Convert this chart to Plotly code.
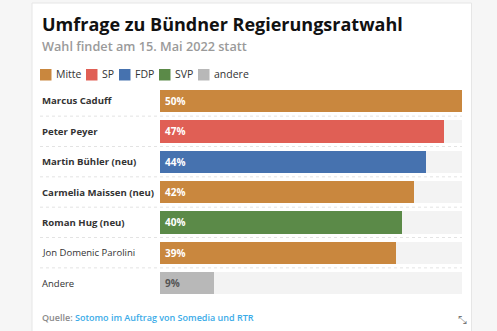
import plotly.graph_objects as go

W, H = 497, 331

names = ["Marcus Caduff", "Peter Peyer", "Martin Bühler (neu)", "Carmelia Maissen (neu)",
         "Roman Hug (neu)", "Jon Domenic Parolini", "Andere"]
values = [50, 47, 44, 42, 40, 39, 9]
parties = ["Mitte", "SP", "FDP", "Mitte", "SVP", "Mitte", "andere"]
bold_names = [True, True, True, True, True, False, False]

legend_parties = ["Mitte", "SP", "FDP", "SVP", "andere"]
party_colors = {"Mitte": "#c9873e", "SP": "#e05f55", "FDP": "#4672af",
                "SVP": "#5b8a48", "andere": "#b8b8b8"}

FONT = "Open Sans"

def px(x):
    return x / W

def py(y):
    return 1 - y / H

n = len(names)
ys = list(range(n))
row_top, row_bot = 85.8, 298.2

fig = go.Figure()
# track
fig.add_trace(go.Bar(x=[50] * n, y=ys, orientation="h", width=0.73,
                     marker=dict(color="#f3f3f3", line=dict(width=0)),
                     hoverinfo="skip", showlegend=False))
fig.add_trace(go.Bar(x=values, y=ys, orientation="h", width=0.73,
                     marker=dict(color=[party_colors[p] for p in parties], line=dict(width=0)),
                     showlegend=False))

shapes = []
# outer card
shapes.append(dict(type="rect", xref="paper", yref="paper", x0=px(32), x1=px(471.5),
                   y0=py(340), y1=py(3), fillcolor="white",
                   line=dict(color="#e6e6e6", width=1), layer="below"))
# separators
for i in range(n - 1):
    shapes.append(dict(type="line", xref="paper", yref="y", x0=px(40), x1=px(462),
                       y0=i + 0.5, y1=i + 0.5, line=dict(color="#e3e3e3", width=1, dash="dot")))

annotations = []
annotations.append(dict(xref="paper", yref="paper", x=px(40), y=py(24), xanchor="left", yanchor="middle",
                        text="<b>Umfrage zu Bündner Regierungsratwahl</b>", showarrow=False,
                        font=dict(family=FONT, size=18, color="#111111")))
annotations.append(dict(xref="paper", yref="paper", x=px(40), y=py(45.5), xanchor="left", yanchor="middle",
                        text="Wahl findet am 15. Mai 2022 statt", showarrow=False,
                        font=dict(family=FONT, size=12.7, color="#9a9a9a", weight=600)))

# legend
leg_sq_x = [40, 86, 119, 159, 198]
for p, x0 in zip(legend_parties, leg_sq_x):
    shapes.append(dict(type="rect", xref="paper", yref="paper", x0=px(x0), x1=px(x0 + 11.5),
                       y0=py(80.5), y1=py(69), fillcolor=party_colors[p], line=dict(width=0)))
    annotations.append(dict(xref="paper", yref="paper", x=px(x0 + 14), y=py(74.5), xanchor="left",
                            yanchor="middle", text=p, showarrow=False,
                            font=dict(family=FONT, size=10.5, color="#333333")))

# row labels and values
for i, (nm, v, p, b) in enumerate(zip(names, values, parties, bold_names)):
    annotations.append(dict(xref="paper", yref="y", x=px(40), y=i, xanchor="left", yanchor="middle",
                            text=nm, showarrow=False,
                            font=dict(family=FONT, size=9.6 if b else 9.5, color="#333333",
                                      weight=700 if b else 400)))
    annotations.append(dict(xref="x", yref="y", x=0, y=i, xanchor="left", yanchor="middle",
                            xshift=3, text=f"{v}%", showarrow=False,
                            font=dict(family=FONT, size=10, weight=700,
                                      color="#555555" if p == "andere" else "white")))

# source
annotations.append(dict(xref="paper", yref="paper", x=px(40), y=py(317), xanchor="left", yanchor="middle",
                        text="Quelle: <span style='color:#3aabe8'>Sotomo im Auftrag von Somedia und RTR</span>",
                        showarrow=False, font=dict(family=FONT, size=9, color="#8a8a8a", weight=600)))
annotations.append(dict(xref="paper", yref="paper", x=px(462), y=py(320), xanchor="center", yanchor="middle",
                        text="⤡", showarrow=False, font=dict(family="DejaVu Sans", size=11, color="#777777")))

fig.update_layout(
    width=W, height=H, margin=dict(l=0, r=0, t=0, b=0),
    paper_bgcolor="#f6f6f6", plot_bgcolor="rgba(0,0,0,0)",
    barmode="overlay", bargap=0,
    xaxis=dict(domain=[px(160), px(462)], range=[0, 50], visible=False, fixedrange=True),
    yaxis=dict(domain=[py(row_bot), py(row_top)], range=[n - 0.5, -0.5], visible=False, fixedrange=True),
    shapes=shapes, annotations=annotations, showlegend=False,
)

fig.write_html("out.html", config={"displayModeBar": False})
